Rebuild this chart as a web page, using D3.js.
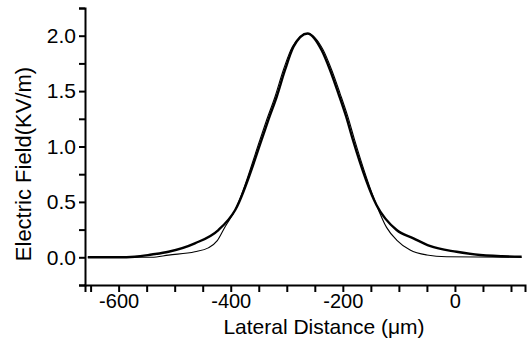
<!DOCTYPE html>
<html>
<head>
<meta charset="utf-8">
<script src="https://cdn.jsdelivr.net/npm/d3@7"></script>
<style>
  body { margin: 0; background: #fff; }
  text { font-family: "Liberation Sans", Arial, sans-serif; fill: #000; }
</style>
</head>
<body>
<div id="chart"></div>
<script>
// measured profile (thick line)
const measuredX = [-655, -601, -571, -541, -511, -464, -422, -392, -345, -333, -318, -303, -288, -263, -238, -223, -208, -194, -182, -140, -104, -74, -45, 3, 45, 119];
const measuredY = [0.0, 0.0, 0.005, 0.025, 0.05, 0.126, 0.246, 0.427, 1.059, 1.239, 1.449, 1.693, 1.90, 2.02, 1.871, 1.693, 1.48, 1.269, 1.059, 0.472, 0.246, 0.171, 0.102, 0.05, 0.021, 0.005];

// fitted profile (thin line)
const fitX = [-655, -541, -511, -464, -440, -424, -410, -392, -348, -336, -321, -306, -290, -263, -235, -220, -205, -191, -179, -140, -122, -104, -80, -50, -15, 119];
const fitY = [0.0, 0.0, 0.02, 0.05, 0.085, 0.15, 0.276, 0.427, 1.059, 1.239, 1.449, 1.693, 1.90, 2.02, 1.871, 1.693, 1.48, 1.269, 1.059, 0.472, 0.27, 0.156, 0.066, 0.021, 0.005, 0.0];

const xTicks = [-600, -400, -200, 0];
const yTicks = [0.0, 0.5, 1.0, 1.5, 2.0];

const W = 528, H = 345;
const svg = d3.select("#chart").append("svg")
  .attr("width", W)
  .attr("height", H);

// plot box
const margin = { left: 85, right: 525, top: 8, bottom: 285 };

const x = d3.scaleLinear().domain([-660, 125]).range([margin.left, margin.right]);
const y = d3.scaleLinear().domain([-0.25, 2.25]).range([margin.bottom, margin.top]);

const fmtX = d => (d < 0 ? "-" : "") + Math.abs(d);

// x axis
const xAxis = svg.append("g")
  .attr("transform", "translate(0," + margin.bottom + ")")
  .call(d3.axisBottom(x)
    .tickValues(d3.range(-650, 126, 50))
    .tickFormat(d => xTicks.includes(d) ? fmtX(d) : "")
    .tickSize(7).tickSizeOuter(7).tickPadding(2));

// y axis
const yAxis = svg.append("g")
  .attr("transform", "translate(" + margin.left + ",0)")
  .call(d3.axisLeft(y)
    .tickValues(d3.range(-0.25, 2.26, 0.25))
    .tickFormat(d => yTicks.some(t => Math.abs(t - d) < 1e-6) ? d3.format(".1f")(d) : "")
    .tickSize(6).tickSizeOuter(6).tickPadding(3));

[xAxis, yAxis].forEach(g => {
  g.select(".domain").attr("stroke", "#000").attr("stroke-width", 2);
  g.selectAll(".tick line").attr("stroke", "#000").attr("stroke-width", 2);
  g.selectAll(".tick text").style("font-size", "21px").attr("fill", "#000");
});
xAxis.selectAll(".tick text").style("font-size", "20px");

// curves
const line = d3.line()
  .x(d => x(d[0]))
  .y(d => y(d[1]))
  .curve(d3.curveMonotoneX);

svg.append("path")
  .datum(d3.zip(fitX, fitY))
  .attr("fill", "none")
  .attr("stroke", "#000")
  .attr("stroke-width", 1.1)
  .attr("d", line);

svg.append("path")
  .datum(d3.zip(measuredX, measuredY))
  .attr("fill", "none")
  .attr("stroke", "#000")
  .attr("stroke-width", 2.4)
  .attr("d", line);

// titles
svg.append("text")
  .attr("x", 324)
  .attr("y", 334)
  .attr("text-anchor", "middle")
  .style("font-size", "21px")
  .text("Lateral Distance (μm)");

svg.append("text")
  .attr("transform", "translate(31,164) rotate(-90)")
  .attr("text-anchor", "middle")
  .style("font-size", "22px")
  .text("Electric Field(KV/m)");
</script>
</body>
</html>
